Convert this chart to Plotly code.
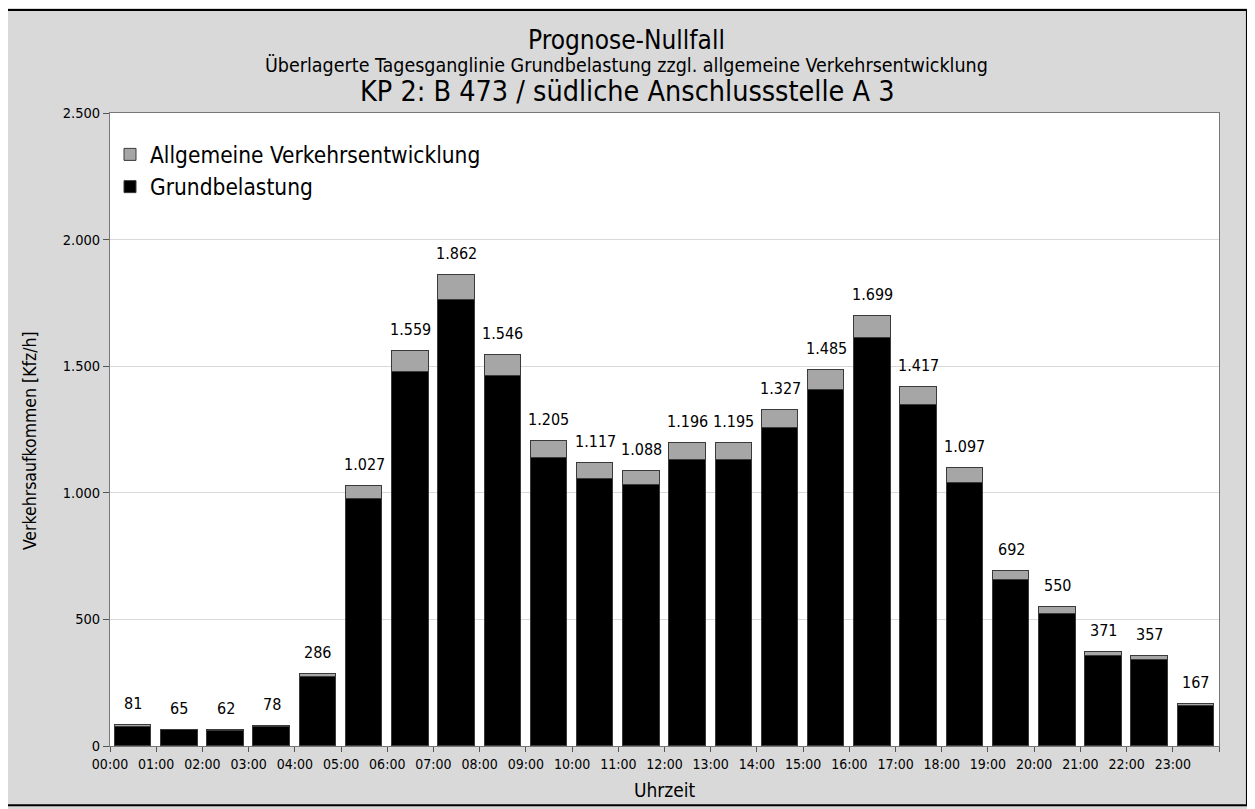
import plotly.graph_objects as go

hours = [f"{h:02d}:00" for h in range(24)]
totals = [81, 65, 62, 78, 286, 1027, 1559, 1862, 1546, 1205, 1117, 1088,
          1196, 1195, 1327, 1485, 1699, 1417, 1097, 692, 550, 371, 357, 167]
growth = [4, 3, 3, 4, 15, 53, 81, 99, 86, 68, 62, 59,
          66, 65, 72, 79, 86, 72, 57, 36, 29, 17, 18, 8]
base = [t - g for t, g in zip(totals, growth)]
yticks = [0, 500, 1000, 1500, 2000, 2500]

FONT = "DejaVu Sans Condensed, Liberation Sans Narrow, sans-serif"
xpos = [i + 0.5 for i in range(24)]

fig = go.Figure()
fig.add_trace(go.Bar(x=xpos, y=base, name="Grundbelastung", width=0.79,
                     marker=dict(color="#000000", line=dict(color="#3a3a3a", width=1)),
                     legendgroup="a"))
fig.add_trace(go.Bar(x=xpos, y=growth, name="Allgemeine Verkehrsentwicklung", width=0.79,
                     marker=dict(color="#a6a6a6", line=dict(color="#3a3a3a", width=1)),
                     legendgroup="b"))

def fmt(v):
    return f"{v:,}".replace(",", ".")

annotations = []
for x, t in zip(xpos, totals):
    annotations.append(dict(x=x, y=t, xref="x", yref="y", text=fmt(t), showarrow=False,
                            yanchor="bottom", yshift=10,
                            font=dict(family=FONT, size=16, color="#000")))

annotations += [
    dict(x=0.466, y=1.1153, xref="paper", yref="paper", text="Prognose-Nullfall",
         showarrow=False, yanchor="middle", font=dict(family=FONT, size=26, color="#000")),
    dict(x=0.466, y=1.0758, xref="paper", yref="paper",
         text="Überlagerte Tagesganglinie Grundbelastung zzgl. allgemeine Verkehrsentwicklung",
         showarrow=False, yanchor="middle", font=dict(family=FONT, size=19.5, color="#000")),
    dict(x=0.466, y=1.0332, xref="paper", yref="paper",
         text="KP 2: B 473 / südliche Anschlussstelle A 3",
         showarrow=False, yanchor="middle", font=dict(family=FONT, size=28.5, color="#000")),
    dict(x=-0.072, y=0.482, xref="paper", yref="paper", text="Verkehrsaufkommen [Kfz/h]",
         showarrow=False, textangle=-90, xanchor="center", yanchor="middle",
         font=dict(family=FONT, size=17.5, color="#000")),
    dict(x=0.5, y=-0.0695, xref="paper", yref="paper", text="Uhrzeit",
         showarrow=False, yanchor="middle", font=dict(family=FONT, size=19, color="#000")),
]

fig.update_layout(
    width=1247, height=801,
    barmode="stack",
    separators=",.",
    paper_bgcolor="#d9d9d9",
    plot_bgcolor="#ffffff",
    margin=dict(l=102, r=36, t=105, b=63),
    font=dict(family=FONT, color="#000"),
    showlegend=True,
    legend=dict(x=0.0, y=0.968, xanchor="left", yanchor="top",
                traceorder="reversed", tracegroupgap=3,
                bgcolor="rgba(0,0,0,0)",
                font=dict(family=FONT, size=22.5, color="#000")),
    annotations=annotations,
    shapes=[dict(type="rect", xref="paper", yref="paper",
                 x0=-0.0929, x1=1.0252, y0=-0.0935, y1=1.1627,
                 line=dict(color="#000", width=2), fillcolor="rgba(0,0,0,0)", layer="below")],
    bargap=0,
)

fig.update_xaxes(range=[0, 24], tickmode="array", tickvals=list(range(25)),
                 ticktext=hours + [""], ticks="outside", ticklen=5, tickcolor="#555",
                 showline=True, linecolor="#777", linewidth=1, mirror=True,
                 showgrid=False, zeroline=False, tickangle=0,
                 tickfont=dict(family=FONT, size=14, color="#000"))
fig.update_yaxes(range=[0, 2500], tickmode="array", tickvals=yticks,
                 tickformat=",d", ticks="outside", ticklen=6, tickcolor="#555",
                 showline=True, linecolor="#777", linewidth=1, mirror=True,
                 showgrid=True, gridcolor="#d9d9d9", gridwidth=1, zeroline=False,
                 tickfont=dict(family=FONT, size=14.5, color="#000"))

fig.write_html("out.html")
